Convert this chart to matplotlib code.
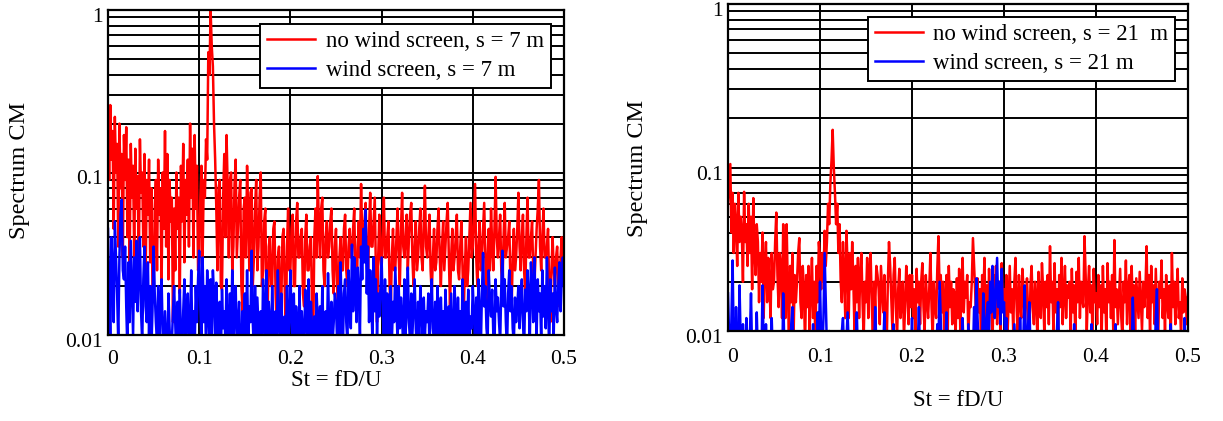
import numpy as np
import matplotlib
matplotlib.use("Agg")
import matplotlib.pyplot as plt
import matplotlib.transforms as mtrans
from matplotlib.ticker import FixedLocator, NullFormatter, LogLocator

plt.rcParams['font.family'] = ['Liberation Serif', 'DejaVu Serif']

# Spectra in thousandths (value * 1e-3), sampled every 0.00125 in St from 0 to 0.5
left_red = [
    230, 90, 260, 120, 180, 45, 220, 100, 150, 35, 200, 80, 130, 30, 170, 90, 190, 40, 120, 28,
    150, 70, 110, 30, 140, 60, 95, 25, 160, 75, 100, 35, 130, 22, 90, 55, 120, 28, 80, 20,
    16, 60, 90, 25, 120, 55, 80, 20, 100, 45, 180, 35, 130, 22, 90, 50, 70, 12, 60, 25,
    100, 45, 70, 18, 110, 50, 150, 28, 90, 55, 120, 35, 200, 70, 140, 30, 170, 60, 110, 25,
    28, 70, 110, 30, 90, 70, 160, 120, 550, 400, 1000, 600, 450, 200, 120, 60, 25, 80, 90, 20,
    19, 70, 130, 40, 170, 80, 30, 90, 100, 25, 35, 85, 120, 30, 45, 70, 90, 20, 14, 60,
    70, 30, 110, 55, 25, 75, 80, 20, 30, 60, 90, 25, 35, 70, 100, 20, 25, 50, 60, 15,
    13, 35, 40, 20, 20, 45, 50, 18, 11, 30, 35, 15, 15, 40, 45, 20, 9, 35, 60, 25,
    25, 45, 55, 20, 20, 50, 65, 30, 30, 40, 45, 18, 15, 40, 55, 25, 25, 35, 40, 15,
    9, 40, 60, 30, 95, 45, 30, 60, 70, 25, 20, 40, 50, 30, 35, 50, 60, 25, 18, 35,
    45, 20, 12, 30, 40, 25, 25, 45, 55, 25, 20, 35, 45, 30, 30, 45, 60, 25, 15, 35,
    50, 30, 85, 40, 30, 50, 65, 30, 20, 45, 75, 35, 35, 50, 70, 25, 12, 30, 55, 30,
    25, 45, 70, 30, 30, 40, 50, 20, 14, 30, 45, 25, 25, 40, 60, 30, 20, 45, 75, 35,
    30, 40, 55, 25, 40, 55, 65, 30, 20, 35, 50, 25, 30, 45, 60, 30, 25, 50, 83, 35,
    30, 40, 55, 25, 18, 30, 45, 25, 28, 45, 60, 30, 20, 35, 50, 25, 35, 50, 65, 30,
    15, 30, 45, 25, 30, 40, 55, 25, 22, 35, 50, 25, 13, 25, 40, 20, 25, 40, 65, 30,
    35, 55, 85, 30, 20, 35, 50, 25, 30, 45, 65, 30, 15, 30, 45, 25, 60, 35, 25, 45,
    94, 40, 30, 40, 55, 25, 20, 40, 65, 30, 35, 40, 50, 20, 14, 30, 45, 25, 30, 45,
    75, 35, 25, 40, 55, 25, 18, 40, 70, 30, 30, 40, 50, 25, 20, 30, 45, 60, 90, 35,
    25, 40, 60, 30, 30, 35, 45, 20, 12, 25, 40, 25, 20, 30, 35, 20, 15, 30, 40, 25, 30,
]
left_blue = [
    45, 20, 8, 40, 25, 12, 50, 30, 18, 9, 30, 55, 68, 25, 22, 35, 15, 8, 28, 12,
    38, 20, 10, 30, 16, 38, 14, 25, 40, 14, 9, 22, 35, 15, 12, 28, 10, 20, 8, 14,
    35, 18, 12, 9, 20, 8, 15, 22, 10, 7, 14, 9, 6, 18, 11, 8, 9, 14, 20, 12,
    7, 16, 9, 19, 10, 7, 14, 22, 9, 12, 18, 8, 11, 25, 9, 14, 8, 20, 12, 22,
    33, 15, 9, 30, 12, 20, 8, 25, 14, 9, 22, 10, 25, 18, 9, 21, 12, 8, 16, 7,
    19, 11, 14, 9, 22, 12, 8, 18, 10, 25, 9, 14, 20, 8, 12, 16, 9, 7, 14, 10,
    18, 9, 25, 9, 15, 12, 33, 12, 8, 20, 8, 17, 11, 7, 14, 6, 22, 13, 9, 25,
    9, 16, 12, 7, 20, 10, 8, 14, 9, 25, 12, 8, 18, 10, 7, 13, 9, 20, 8, 12,
    25, 13, 8, 18, 8, 15, 11, 7, 20, 7, 14, 10, 8, 19, 12, 9, 22, 9, 16, 11,
    7, 13, 8, 18, 12, 9, 15, 8, 20, 10, 7, 14, 9, 24, 11, 8, 16, 9, 12, 18,
    15, 9, 20, 10, 28, 14, 8, 18, 22, 12, 9, 25, 16, 11, 36, 14, 30, 20, 12, 26,
    18, 10, 35, 22, 45, 28, 59, 18, 35, 12, 25, 16, 9, 30, 14, 22, 10, 18, 13, 20,
    30, 14, 9, 22, 10, 18, 13, 8, 20, 9, 16, 12, 26, 15, 9, 20, 11, 17, 13, 8,
    22, 10, 14, 26, 12, 9, 18, 10, 15, 22, 11, 8, 16, 9, 20, 13, 10, 17, 10, 14,
    12, 18, 8, 15, 22, 11, 9, 16, 9, 20, 13, 8, 17, 10, 14, 8, 19, 12, 9, 15,
    10, 18, 11, 7, 20, 13, 9, 17, 10, 14, 8, 22, 12, 9, 16, 10, 19, 8, 13, 11,
    20, 13, 9, 17, 10, 22, 14, 8, 18, 32, 15, 20, 11, 9, 25, 16, 13, 19, 10, 8,
    22, 14, 17, 12, 9, 20, 33, 15, 22, 12, 8, 18, 25, 14, 20, 11, 9, 17, 12, 15,
    20, 11, 16, 22, 12, 8, 19, 14, 25, 17, 9, 28, 20, 12, 30, 16, 10, 22, 14, 18,
    9, 25, 13, 20, 11, 30, 16, 8, 22, 14, 18, 10, 26, 15, 12, 20, 28, 14, 22, 30, 20,
]
right_red = [
    60, 80, 105, 40, 70, 30, 60, 45, 25, 70, 35, 50, 40, 20, 71, 35, 45, 25, 60, 30,
    50, 18, 65, 30, 22, 45, 35, 15, 30, 20, 40, 12, 25, 35, 15, 28, 20, 12, 30, 18,
    20, 35, 53, 22, 14, 30, 25, 12, 45, 20, 12, 45, 18, 9, 25, 15, 30, 9, 22, 15,
    20, 30, 37, 15, 12, 25, 18, 8, 22, 14, 25, 10, 18, 28, 12, 20, 8, 25, 15, 35,
    28, 18, 30, 20, 41, 25, 35, 60, 45, 80, 110, 170, 100, 70, 45, 60, 30, 45, 20, 15,
    35, 22, 12, 41, 25, 12, 30, 18, 35, 20, 10, 25, 15, 28, 12, 22, 30, 15, 9, 20,
    15, 28, 12, 22, 30, 15, 9, 20, 14, 25, 22, 18, 11, 25, 18, 13, 22, 10, 8, 20,
    35, 25, 16, 10, 22, 28, 14, 9, 18, 24, 12, 15, 20, 9, 14, 25, 18, 11, 22, 14,
    22, 12, 18, 9, 24, 15, 20, 11, 20, 26, 14, 10, 22, 15, 12, 18, 30, 14, 9, 20,
    14, 12, 24, 38, 18, 22, 13, 20, 10, 16, 22, 9, 25, 14, 20, 11, 18, 17, 10, 21,
    12, 24, 10, 18, 28, 13, 20, 16, 22, 9, 15, 14, 20, 37, 25, 17, 10, 21, 13, 18,
    9, 22, 15, 28, 12, 19, 10, 24, 14, 18, 8, 22, 13, 25, 11, 17, 20, 10, 26, 14,
    18, 12, 22, 9, 15, 25, 13, 18, 10, 20, 28, 14, 9, 22, 15, 12, 24, 18, 10, 16,
    21, 13, 8, 19, 25, 14, 11, 20, 16, 9, 23, 15, 12, 26, 18, 10, 20, 14, 22, 11,
    33, 15, 20, 10, 26, 13, 18, 9, 22, 14, 28, 11, 17, 25, 12, 19, 16, 20, 10, 24,
    13, 19, 9, 23, 15, 28, 12, 20, 16, 14, 38, 22, 10, 18, 25, 13, 19, 9, 24, 15,
    17, 11, 22, 14, 19, 10, 25, 13, 18, 9, 26, 15, 20, 12, 22, 10, 36, 14, 18, 11,
    16, 24, 12, 9, 20, 15, 27, 11, 18, 22, 10, 25, 14, 19, 9, 21, 16, 12, 23, 15,
    10, 20, 14, 18, 33, 12, 22, 9, 25, 15, 19, 11, 24, 14, 8, 20, 16, 27, 12, 18,
    10, 22, 15, 12, 19, 9, 30, 14, 20, 11, 17, 24, 12, 15, 9, 21, 13, 18, 16, 11, 16,
]
right_blue = [
    17, 9, 6, 12, 27, 8, 5, 14, 7, 6, 19, 9, 6, 11, 7, 5, 12, 8, 6, 9,
    17, 7, 5, 10, 6, 13, 7, 5, 8, 6, 19, 8, 6, 11, 7, 5, 9, 6, 12, 7,
    6, 9, 5, 8, 7, 6, 10, 5, 17, 8, 6, 9, 5, 7, 6, 11, 14, 7, 5, 8,
    6, 5, 9, 7, 6, 10, 5, 8, 6, 7, 5, 9, 6, 8, 11, 6, 5, 7, 13, 8,
    20, 9, 7, 12, 30, 15, 8, 6, 10, 7, 5, 9, 6, 8, 7, 5, 9, 6, 8, 10,
    12, 7, 6, 9, 13, 8, 6, 5, 9, 7, 6, 8, 13, 7, 5, 9, 6, 7, 5, 8,
    6, 9, 7, 5, 8, 6, 10, 7, 14, 8, 6, 9, 5, 7, 6, 8, 13, 7, 5, 9,
    6, 8, 7, 5, 11, 6, 8, 7, 9, 6, 5, 8, 7, 6, 9, 5, 7, 8, 6, 7,
    12, 7, 6, 9, 5, 8, 14, 7, 6, 9, 5, 8, 7, 6, 10, 7, 5, 8, 6, 9,
    7, 6, 11, 8, 20, 12, 7, 9, 6, 8, 13, 7, 5, 9, 6, 8, 7, 10, 6, 8,
    7, 9, 6, 8, 12, 7, 5, 9, 6, 11, 8, 6, 9, 7, 14, 10, 21, 12, 8, 10,
    7, 9, 17, 11, 8, 12, 15, 9, 20, 13, 25, 16, 12, 18, 28, 14, 20, 11, 24, 13,
    15, 9, 12, 7, 10, 8, 6, 9, 7, 11, 8, 6, 9, 7, 12, 8, 6, 10, 19, 9,
    7, 11, 15, 8, 6, 9, 7, 5, 8, 6, 9, 7, 6, 10, 7, 5, 8, 6, 9, 7,
    6, 8, 7, 9, 6, 8, 10, 15, 7, 6, 9, 5, 7, 8, 6, 10, 7, 5, 9, 6,
    8, 11, 7, 6, 9, 5, 8, 7, 6, 10, 7, 8, 6, 9, 5, 7, 11, 6, 8, 7,
    6, 9, 7, 5, 8, 6, 10, 7, 9, 6, 8, 5, 7, 9, 6, 8, 7, 11, 6, 8,
    5, 9, 7, 6, 8, 10, 7, 6, 9, 5, 8, 7, 16, 9, 6, 8, 7, 10, 6, 8,
    7, 6, 9, 8, 6, 10, 7, 5, 9, 6, 8, 7, 12, 18, 8, 6, 9, 7, 5, 10,
    6, 8, 7, 9, 6, 11, 7, 5, 8, 6, 9, 7, 6, 8, 10, 7, 6, 12, 8, 7, 9,
]
st_step = 0.00125

labels_left = ["no wind screen, s = 7 m", "wind screen, s = 7 m"]
labels_right = ["no wind screen, s = 21  m", "wind screen, s = 21 m"]
x_ticks = [0, 0.1, 0.2, 0.3, 0.4, 0.5]
x_ticklabels = ["0", "0.1", "0.2", "0.3", "0.4", "0.5"]
y_ticks = [0.01, 0.1, 1]
y_ticklabels = ["0.01", "0.1", "1"]

FS_TICK = 15.5
FS_LEG = 16.5
W, H = 1223, 421
fig = plt.figure(figsize=(W / 100, H / 100), dpi=100)

def px_axes(x0, x1, ytop, ybot):
    return fig.add_axes([x0 / W, (H - ybot) / H, (x1 - x0) / W, (ybot - ytop) / H])

axL = px_axes(108, 564, 10, 335)
axR = px_axes(728, 1188, 4, 331)

def style(ax, red, blue, labels, legend_anchor, xpad):
    xr = np.arange(len(red)) * st_step
    xb = np.arange(len(blue)) * st_step
    ax.plot(xr, np.array(red) * 1e-3, color="#ff0000", lw=1.8, label=labels[0], zorder=3)
    ax.plot(xb, np.array(blue) * 1e-3, color="#0000ff", lw=1.8, label=labels[1], zorder=4)
    ax.set_yscale("log")
    ax.set_xlim(0, 0.5)
    ax.set_ylim(0.01, 1)
    ax.xaxis.set_major_locator(FixedLocator(x_ticks))
    ax.set_xticklabels(x_ticklabels)
    ax.yaxis.set_major_locator(FixedLocator(y_ticks))
    ax.set_yticklabels(y_ticklabels)
    ax.yaxis.set_minor_locator(LogLocator(base=10, subs=np.arange(2, 10)))
    ax.yaxis.set_minor_formatter(NullFormatter())
    ax.tick_params(which="both", length=0, labelsize=FS_TICK)
    ax.tick_params(axis="x", pad=xpad)
    ax.tick_params(axis="y", pad=4)
    ax.grid(True, which="major", axis="both", color="black", lw=1.4, zorder=1)
    ax.grid(True, which="minor", axis="y", color="black", lw=1.4, zorder=1)
    ax.set_axisbelow(True)
    for s in ax.spines.values():
        s.set_linewidth(1.6)
        s.set_color("black")
        s.set_zorder(5)
    leg = ax.legend(loc="upper right", bbox_to_anchor=legend_anchor, borderaxespad=0,
                    fontsize=FS_LEG, frameon=True, fancybox=False, framealpha=1,
                    edgecolor="black", handlelength=2.1, handletextpad=0.45,
                    labelspacing=0.35, borderpad=0.3)
    leg.get_frame().set_linewidth(1.4)
    leg.set_zorder(6)
    off = mtrans.ScaledTranslation(0, -5 / 100, fig.dpi_scale_trans)
    for t in ax.get_yticklabels():
        t.set_transform(t.get_transform() + off)
    xoff = mtrans.ScaledTranslation(5 / 100, 0, fig.dpi_scale_trans)
    t0 = ax.get_xticklabels()[0]
    t0.set_transform(t0.get_transform() + xoff)

style(axL, left_red, left_blue, labels_left, (0.971, 0.957), 10.5)
style(axR, right_red, right_blue, labels_right, (0.972, 0.960), 12.5)

fig.text(20 / W, 1 - 170 / H, "Spectrum CM", rotation=90, ha="center", va="center", fontsize=17.5)
fig.text(638 / W, 1 - 168 / H, "Spectrum CM", rotation=90, ha="center", va="center", fontsize=17.5)
fig.text(336 / W, 1 - 381 / H, "St = fD/U", ha="center", va="center", fontsize=16.5)
fig.text(958 / W, 1 - 400 / H, "St = fD/U", ha="center", va="center", fontsize=16.5)

fig.savefig("out.png", dpi=100, facecolor="white")
